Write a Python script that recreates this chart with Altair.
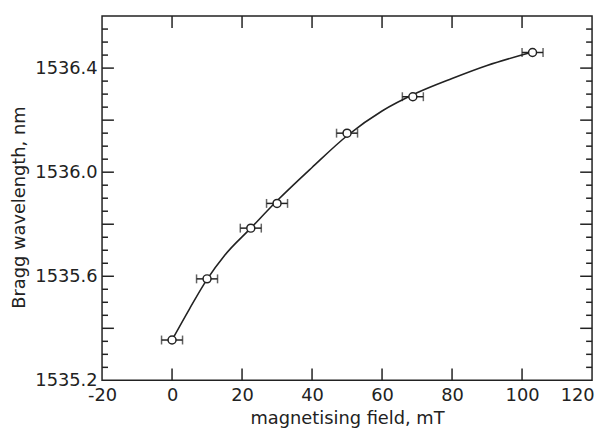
import altair as alt
import pandas as pd

field = [0, 10, 22.5, 30, 50, 68.8, 103]
wavelength = [1535.355, 1535.59, 1535.785, 1535.88, 1536.15, 1536.29, 1536.46]
field_err = [3, 3, 3, 3, 3, 3, 3]

# fitted curve at these fields
curve_field = [0, 5, 10, 15, 22.5, 30, 40, 50, 60, 70, 80, 90, 103]
curve_wavelength = [1535.355, 1535.475, 1535.588, 1535.68, 1535.785, 1535.89,
                    1536.018, 1536.14, 1536.235, 1536.305, 1536.36, 1536.41, 1536.462]

x_domain = [-20, 120]
y_domain = [1535.2, 1536.6]
x_ticks = [-20, 0, 20, 40, 60, 80, 100, 120]
y_labels = [1535.2, 1535.6, 1536.0, 1536.4]
y_major = [1535.4, 1535.6, 1535.8, 1536.0, 1536.2, 1536.4]
y_minor = [1535.25, 1535.3, 1535.35, 1535.45, 1535.5, 1535.55, 1535.65, 1535.7,
           1535.75, 1535.85, 1535.9, 1535.95, 1536.05, 1536.1, 1536.15, 1536.25,
           1536.3, 1536.35, 1536.45, 1536.5, 1536.55]

df = pd.DataFrame({
    "field": field,
    "wavelength": wavelength,
    "lo": [f - e for f, e in zip(field, field_err)],
    "hi": [f + e for f, e in zip(field, field_err)],
})
curve = pd.DataFrame({"field": curve_field, "wavelength": curve_wavelength})

W, H = 495, 368
INK = "#222222"
xs = alt.Scale(domain=x_domain, nice=False, zero=False)
ys = alt.Scale(domain=y_domain, nice=False, zero=False)

base = alt.Chart(df)

line = alt.Chart(curve).mark_line(interpolate="monotone", color=INK, strokeWidth=1.6).encode(
    x=alt.X("field:Q", scale=xs, axis=alt.Axis(
        orient="bottom", values=x_ticks, ticks=False, tickSize=0, labelPadding=6,
        labelFlush=False, labelOffset=alt.expr("datum.value == 120 ? -15 : 0"),
        domain=False, grid=False, title="magnetising field, mT", titlePadding=6,
        labelExpr="replace(datum.label, '\u2212', '-')")),
    y=alt.Y("wavelength:Q", scale=ys, axis=alt.Axis(
        orient="left", values=y_labels, format=".1f", ticks=False, tickSize=0,
        labelPadding=5, domain=False, grid=False, title="Bragg wavelength, nm",
        titlePadding=6, titleY=H / 2 + 9)),
)

bars = base.mark_rule(color=INK, strokeWidth=1.5).encode(
    x=alt.X("lo:Q", scale=xs, axis=None),
    x2="hi:Q",
    y=alt.Y("wavelength:Q", scale=ys, axis=None),
)

cap_lo = base.mark_tick(color=INK, orient="vertical", size=9, thickness=1.5).encode(
    x=alt.X("lo:Q", scale=xs, axis=None),
    y=alt.Y("wavelength:Q", scale=ys, axis=None),
)

cap_hi = base.mark_tick(color=INK, orient="vertical", size=9, thickness=1.5).encode(
    x=alt.X("hi:Q", scale=xs, axis=None),
    y=alt.Y("wavelength:Q", scale=ys, axis=None),
)

points = base.mark_point(shape="circle", size=65, filled=False, fill="white",
                         fillOpacity=1, stroke=INK, strokeWidth=1.5, opacity=1).encode(
    x=alt.X("field:Q", scale=xs, axis=None),
    y=alt.Y("wavelength:Q", scale=ys, axis=None),
)


def y_edge_ticks(values, edge, length):
    d = pd.DataFrame({"v": values, "edge": [edge] * len(values)})
    return alt.Chart(d).mark_rule(color=INK, strokeWidth=1.5, x2Offset=length).encode(
        y=alt.Y("v:Q", scale=ys, axis=None),
        x=alt.X("edge:Q", scale=xs, axis=None),
        x2="edge:Q",
    )


def x_edge_ticks(values, edge, length):
    d = pd.DataFrame({"v": values, "edge": [edge] * len(values)})
    return alt.Chart(d).mark_rule(color=INK, strokeWidth=1.5, y2Offset=length).encode(
        x=alt.X("v:Q", scale=xs, axis=None),
        y=alt.Y("edge:Q", scale=ys, axis=None),
        y2="edge:Q",
    )


ticks = [
    y_edge_ticks(y_major, x_domain[0], 12),
    y_edge_ticks(y_minor, x_domain[0], 6),
    y_edge_ticks(y_major, x_domain[1], -12),
    y_edge_ticks(y_minor, x_domain[1], -6),
    x_edge_ticks(x_ticks[1:-1], y_domain[0], -12),
    x_edge_ticks(x_ticks[1:-1], y_domain[1], 12),
]

chart = alt.layer(line, *ticks, bars, cap_lo, cap_hi, points).resolve_axis(
    x="independent", y="independent"
).properties(
    width=W, height=H,
    padding={"left": 95, "top": 6, "right": 5, "bottom": 47},
    autosize=alt.AutoSizeParams(type="none"),
).configure_view(
    stroke=INK, strokeWidth=1.5
).configure_axis(
    labelFont="DejaVu Sans", labelFontSize=18, labelColor=INK,
    titleFont="DejaVu Sans", titleFontSize=18, titleFontWeight="normal", titleColor=INK,
)

chart.save("out.html", embed_options={"renderer": "svg", "actions": False})
